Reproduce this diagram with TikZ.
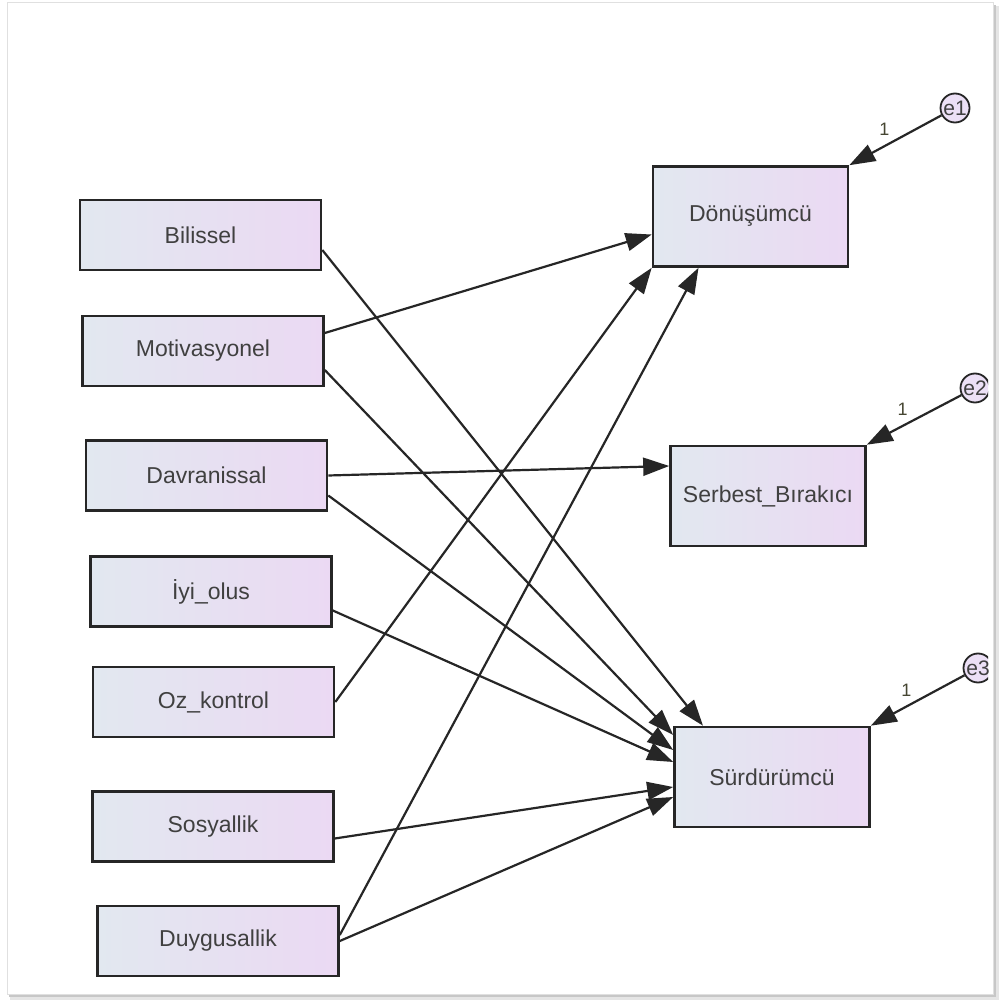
\documentclass[tikz,border=0pt]{standalone}
\usepackage{fontspec}
\setmainfont{Liberation Sans}
\usepackage{tikz}
\usetikzlibrary{positioning,arrows.meta}

\definecolor{boxleft}{RGB}{226,232,240}
\definecolor{boxright}{RGB}{235,217,243}
\definecolor{errfill}{RGB}{236,224,246}
\definecolor{weight}{RGB}{70,70,50}

\begin{document}
\begin{tikzpicture}[x=1pt, y=-1pt,
        factor/.style={rectangle, draw=black!85, line width=2.6pt, left color=boxleft, right color=boxright,
            minimum width=241pt, minimum height=70pt, inner sep=0pt, font=\fontsize{23}{27}\selectfont, text=black!75},
        outcome/.style={factor, minimum width=195pt, minimum height=100pt},
        errvar/.style={circle, draw=black!85, line width=1.8pt, fill=errfill, minimum size=29pt, inner sep=0pt,
            font=\fontsize{21}{24}\selectfont, text=black!75},
        effect/.style={draw, line width=2.2pt, black!85, -{Triangle[length=26pt,width=18pt]}},
        weightlbl/.style={font=\fontsize{18}{20}\selectfont, text=weight}
    ]
        \useasboundingbox (0,0) rectangle (1005,1003);

        % Frame
        \fill[black!10] (10,6) rectangle (999,1000);
        \fill[black!22] (9,5) rectangle (996,997);
        \fill[white] (7,3) rectangle (993,994);
        \draw[black!12, line width=1pt] (7,3) rectangle (993,994);

        \begin{scope}
        \clip (7,3) rectangle (988,994);

        % Predictors
        \node[factor] (Bil) at (200.5,235) {Bilissel};
        \node[factor] (Mot) at (203,351) {Motivasyonel};
        \node[factor] (Dav) at (206.5,475.5) {Davranissal};
        \node[factor] (Iyi) at (211,591.5) {İyi\_olus};
        \node[factor] (Oz) at (213.5,702) {Oz\_kontrol};
        \node[factor] (Sos) at (213,826.5) {Sosyallik};
        \node[factor] (Duy) at (218,941) {Duygusallik};

        % Outcomes
        \node[outcome] (Don) at (750.5,216.5) {Dönüşümcü};
        \node[outcome] (Ser) at (768,496) {Serbest\_Bırakıcı};
        \node[outcome] (Sur) at (772,777) {Sürdürümcü};

        % Error terms
        \node[errvar] (e1) at (955,108) {e1};
        \node[errvar] (e2) at (975,388) {e2};
        \node[errvar] (e3) at (978,668) {e3};

        % Paths
        \draw[effect] ([yshift=-15pt]Bil.east) -- ([xshift=-69pt]Sur.north);
        \draw[effect] ([yshift=18pt]Mot.east) -- ([yshift=-18pt]Don.west);
        \draw[effect] ([yshift=-19pt]Mot.east) -- ([yshift=42pt]Sur.west);
        \draw[effect] (Dav.east) -- ([yshift=30pt]Ser.west);
        \draw[effect] ([yshift=-20pt]Dav.east) -- ([yshift=27pt]Sur.west);
        \draw[effect] ([yshift=-19pt]Iyi.east) -- ([yshift=15pt]Sur.west);
        \draw[effect] (Oz.east) -- (Don.south west);
        \draw[effect] ([yshift=-12pt]Sos.east) -- ([yshift=-10pt]Sur.west);
        \draw[effect] ([yshift=6pt]Duy.east) -- ([xshift=-52pt]Don.south);
        \draw[effect] (Duy.east) -- ([yshift=-20pt]Sur.west);

        % Error paths
        \draw[effect] (e1) -- node[weightlbl, pos=0.62, above=6pt] {1} (Don.north east);
        \draw[effect] (e2) -- node[weightlbl, pos=0.62, above=6pt] {1} (Ser.north east);
        \draw[effect] (e3) -- node[weightlbl, pos=0.62, above=6pt] {1} (Sur.north east);
        \end{scope}
    \end{tikzpicture}
\end{document}
